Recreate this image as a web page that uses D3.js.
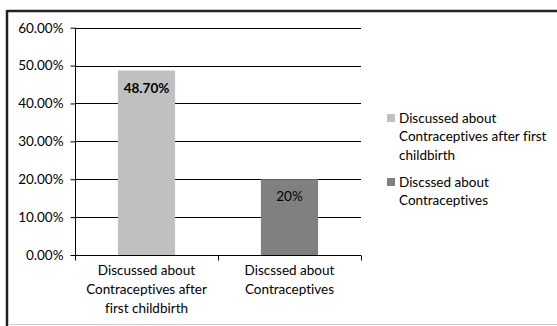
<!DOCTYPE html>
<html><head><meta charset="utf-8">
<script src="https://cdn.jsdelivr.net/npm/d3@7"></script>
<style>body{margin:0;background:#fff}svg{display:block}text{font-family:Lato,"Open Sans",sans-serif;fill:#000;font-variant-ligatures:none;font-feature-settings:"liga" 0}</style>
</head><body><svg id="c" width="557" height="326"></svg>
<script>
const categories = ["Discussed about Contraceptives after first childbirth", "Discssed about Contraceptives"];
const values = [0.487, 0.20];
const valueLabels = ["48.70%", "20%"];
const colors = ["#c0c0c0", "#808080"];
const yTicks = [0, 0.1, 0.2, 0.3, 0.4, 0.5, 0.6];
const xLabelLines = [["Discussed about", "Contraceptives after", "first childbirth"], ["Discssed about", "Contraceptives"]];
const legendLines = [["Discussed about", "Contraceptives after first", "childbirth"], ["Discssed about", "Contraceptives"]];

const svg = d3.select("#c");
const fs = 13.5;
// frame
svg.append("line").attr("x1",7).attr("x2",557).attr("y1",11).attr("y2",11).attr("stroke","#222").attr("stroke-width",2.5);
svg.append("line").attr("x1",7).attr("x2",7).attr("y1",10).attr("y2",326).attr("stroke","#222").attr("stroke-width",2.5);
svg.append("line").attr("x1",8).attr("x2",557).attr("y1",324.5).attr("y2",324.5).attr("stroke","#ccc").attr("stroke-width",1);

const x = d3.scaleBand().domain(categories).range([75, 361]).paddingInner(0.6).paddingOuter(0.3);
const y = d3.scaleLinear().domain([0, 0.6]).range([255, 27.7]);

// gridlines
svg.append("g").selectAll("line").data(yTicks.filter(d=>d>0)).join("line")
  .attr("x1",75).attr("x2",361).attr("y1",d=>Math.round(y(d))+0.5).attr("y2",d=>Math.round(y(d))+0.5)
  .attr("stroke","#000").attr("stroke-width",1);

// bars
svg.append("g").selectAll("rect").data(values).join("rect")
  .attr("x",(d,i)=>x(categories[i])).attr("width",x.bandwidth())
  .attr("y",d=>y(d)).attr("height",d=>y(0)-y(d)).attr("fill",(d,i)=>colors[i]);

// y axis
const ya = svg.append("g").attr("transform","translate(75.5,0)")
  .call(d3.axisLeft(y).tickValues(yTicks).tickFormat(d3.format(".2%")).tickSize(5).tickPadding(7));
ya.select(".domain").attr("d","M0,"+y(0.6)+"V"+(y(0)+0.5)).attr("stroke","#000");
ya.selectAll("text").attr("font-size",fs).attr("font-family","Lato");
ya.selectAll(".tick line").attr("stroke","#000");

// x axis
const xb = d3.scalePoint().domain([0,1,2]).range([75,361]);
const xa = svg.append("g").attr("transform","translate(0,"+(Math.round(y(0))+0.5)+")");
xa.append("line").attr("x1",75).attr("x2",361).attr("stroke","#000");
xa.selectAll(".t").data(xb.domain()).join("line").attr("class","t")
  .attr("x1",d=>Math.round(xb(d))+0.5).attr("x2",d=>Math.round(xb(d))+0.5).attr("y1",0).attr("y2",5).attr("stroke","#000");

// x labels
categories.forEach((c,i)=>{
  const cx = x(c)+x.bandwidth()/2;
  const t = svg.append("text").attr("text-anchor","middle").attr("font-size",fs);
  xLabelLines[i].forEach((ln,j)=>t.append("tspan").attr("x",cx).attr("y",275+j*19).text(ln));
});

// value labels
values.forEach((v,i)=>{
  svg.append("text").attr("x",x(categories[i])+x.bandwidth()/2).attr("y",y(v)+22)
    .attr("text-anchor","middle").attr("font-size",fs).attr("font-weight",i===0?"bold":"normal").text(valueLabels[i]);
});

// legend
const legY = [118, 182];
legendLines.forEach((lines,i)=>{
  svg.append("rect").attr("x",387).attr("y",legY[i]-4).attr("width",8).attr("height",8).attr("fill",colors[i]);
  const t = svg.append("text").attr("font-size",fs);
  lines.forEach((ln,j)=>t.append("tspan").attr("x",399).attr("y",legY[i]+4.5+j*18.5).text(ln));
});
</script></body></html>
